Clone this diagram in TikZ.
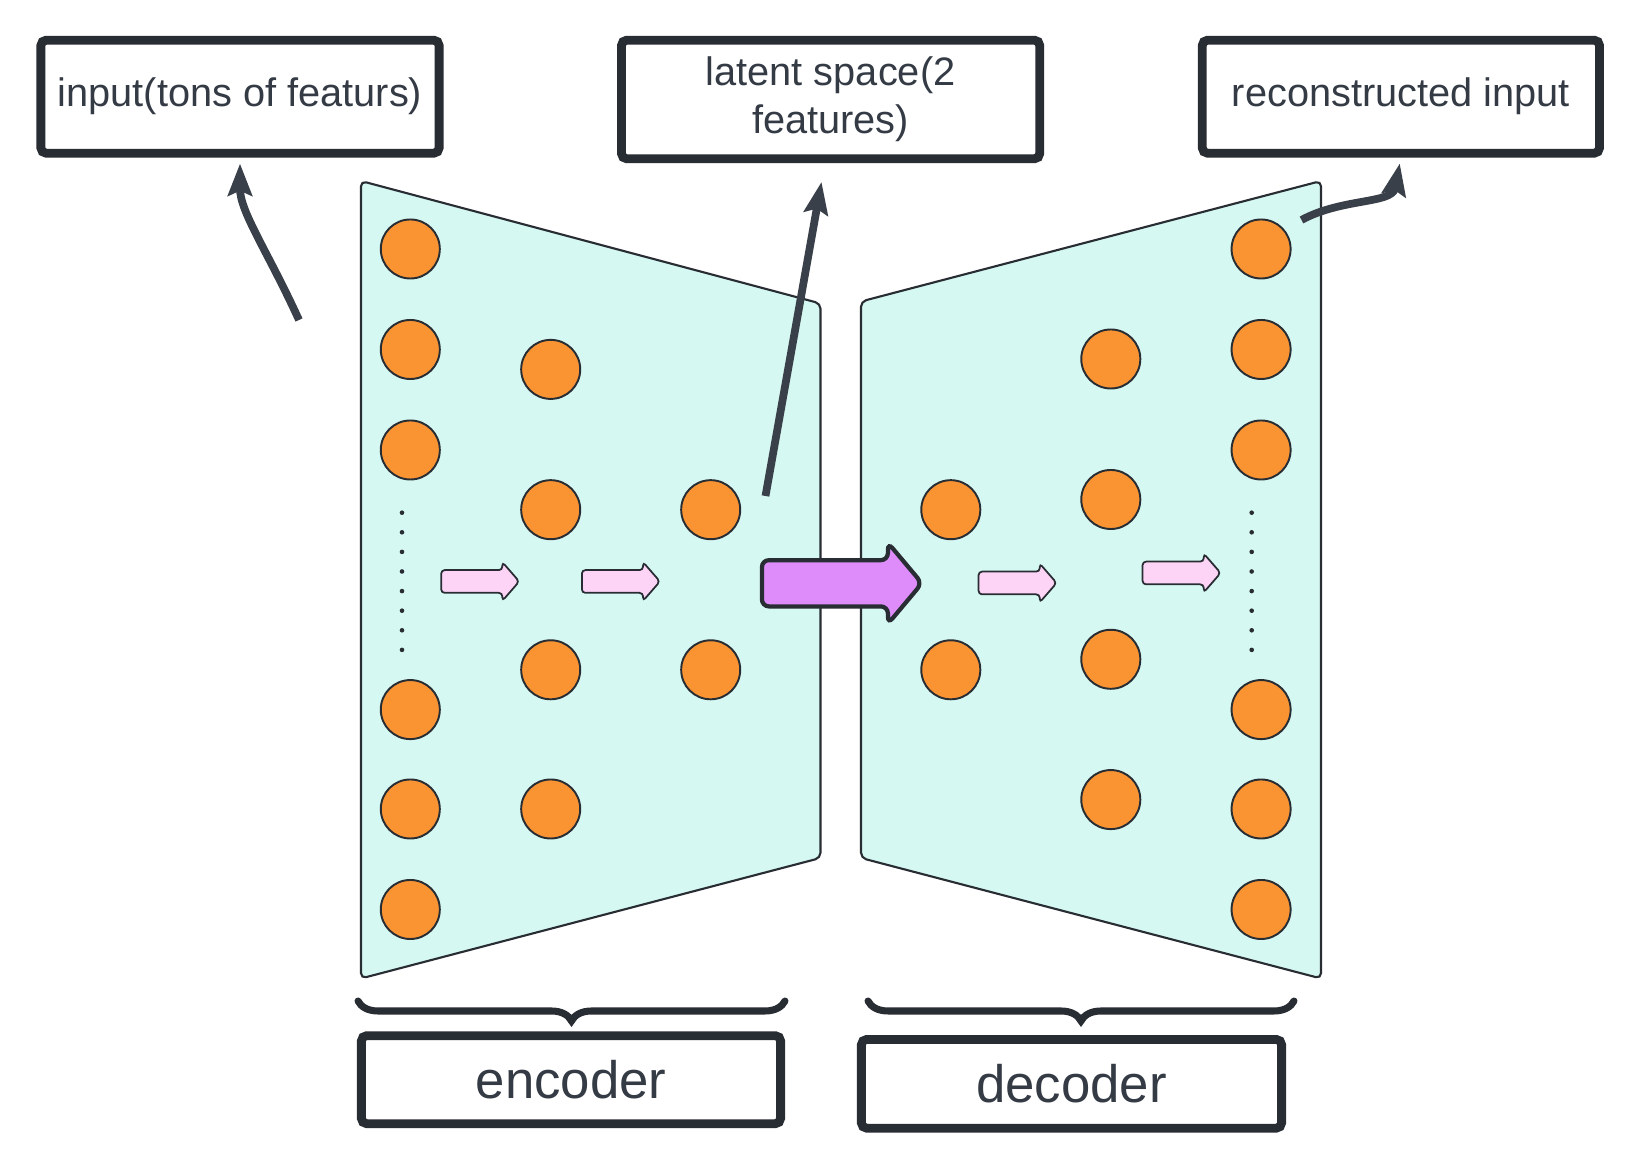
\documentclass[tikz,border=0pt]{standalone}
\usepackage{fontspec}
\setmainfont{Liberation Sans}
\usetikzlibrary{arrows.meta,shapes.arrows,decorations.pathreplacing}
\definecolor{ink}{HTML}{282C33}
\definecolor{txt}{HTML}{353B45}
\definecolor{wire}{HTML}{3A4049}
\definecolor{mint}{HTML}{D6F8F2}
\definecolor{unit}{HTML}{FA9433}
\definecolor{softpink}{HTML}{FDD4F6}
\definecolor{violet}{HTML}{DE8CFA}
\tikzset{
    labelbox/.style={draw=ink, line width=2.5pt, rounded corners=1.5pt, fill=white,
        text=txt, inner sep=0pt, font=\fontsize{11.3}{13.7}\selectfont},
    partbox/.style={labelbox, font=\fontsize{15}{18}\selectfont},
    half/.style={draw=ink, fill=mint, line width=0.6pt, rounded corners=1.5pt},
    neuron/.style={circle, draw=ink, fill=unit, line width=0.55pt, minimum size=0.59cm, inner sep=0pt},
    flow/.style={single arrow, draw=ink, fill=softpink, line width=0.5pt,
        inner xsep=0pt, inner ysep=0.105cm,
        minimum height=0.78cm, minimum width=0.37cm, single arrow head extend=0.08cm,
        single arrow tip angle=98, rounded corners=1pt, anchor=tail},
    bigflow/.style={flow, fill=violet, line width=1.2pt, rounded corners=2pt, inner ysep=0.21cm,
        minimum height=1.6cm, minimum width=0.77cm, single arrow head extend=0.175cm,
        single arrow tip angle=100},
    pointer/.style={draw=wire, line width=2.2pt,
        -{Stealth[length=0.32cm,width=0.24cm,inset=0.05cm]}},
    partbrace/.style={decorate, decoration={brace, mirror, amplitude=0.2cm},
        draw=ink, line width=2pt, line cap=round},
}
\newcommand\Layer[3]{%
    \foreach \y [count=\n] in {#3}
        \node[neuron] (#1\n) at (#2,\y) {};
}
\newcommand\Dots[1]{%
    \foreach \k in {0,...,7}
        \fill[ink] (#1,512.7+19.6*\k) circle[radius=0.023cm];
}

\begin{document}
\begin{tikzpicture}[x=0.01cm, y=-0.01cm]
    \fill[white] (0,0) rectangle (1641,1168);
    \useasboundingbox (0,0) rectangle (1641,1168);
    % labels on top
    \node[labelbox, minimum width=3.98cm, minimum height=1.13cm] (input) at (240,96.7) {input(tons of featurs)};
    \node[labelbox, minimum width=4.18cm, minimum height=1.186cm, align=center] (latent) at (830.6,99.5) {latent space(2\\features)};
    \node[labelbox, minimum width=3.97cm, minimum height=1.13cm] (recon) at (1400.9,96.7) {reconstructed input};
    \begin{scope} % encoder
        \draw[half] (361,181) -- (820.5,303.5) -- (820.5,858) -- (361,978.5) -- cycle;
        \Layer{inA}{410.3}{249,349.5,450,709.6,809,909.5}
        \Layer{encB}{550.7}{369.4,509.7,669.8,809}
        \Layer{encC}{710.7}{509.7,669.8}
        \Dots{402}
        \node[flow] (encF1) at (440.3,581.5) {};
        \node[flow] (encF2) at (581,581.5) {};
    \end{scope}
    \begin{scope} % decoder
        \draw[half] (1321,181) -- (861,301.5) -- (861,858) -- (1321,978.5) -- cycle;
        \Layer{decA}{950.8}{509.7,669.8}
        \Layer{decB}{1110.8}{359,499.5,659.3,799.6}
        \Layer{out}{1261.1}{249,349.5,450,709.6,809,909.5}
        \Dots{1251.7}
        \node[flow] (decF1) at (977.7,583) {};
        \node[flow] (decF2) at (1141.7,573) {};
    \end{scope}
    \node[bigflow] (code) at (759.8,583.3) {};
    % pointers up to the labels
    \coordinate (inTail) at (299,320);
    \coordinate (latTail) at (765.5,496);
    \coordinate (latTip) at (821.5,182);
    \coordinate (outTail) at (1301.5,220);
    \draw[pointer, shorten >=0.06cm] (inTail) .. controls (268,252) and (240,212) .. (input.south);
    \draw[pointer] (latTail) -- (latTip);
    \draw[pointer, shorten >=0.06cm] (outTail) .. controls (1342,198) and (1392,204) .. (recon.south);
    % braces and part names
    \draw[partbrace] (358,1001) -- (785,1001);
    \draw[partbrace] (868,1001) -- (1294,1001);
    \node[partbox, minimum width=4.19cm, minimum height=0.88cm] (enc) at (571,1079.7) {encoder};
    \node[partbox, minimum width=4.2cm, minimum height=0.887cm] (dec) at (1071.5,1083.8) {decoder};
\end{tikzpicture}
\end{document}
